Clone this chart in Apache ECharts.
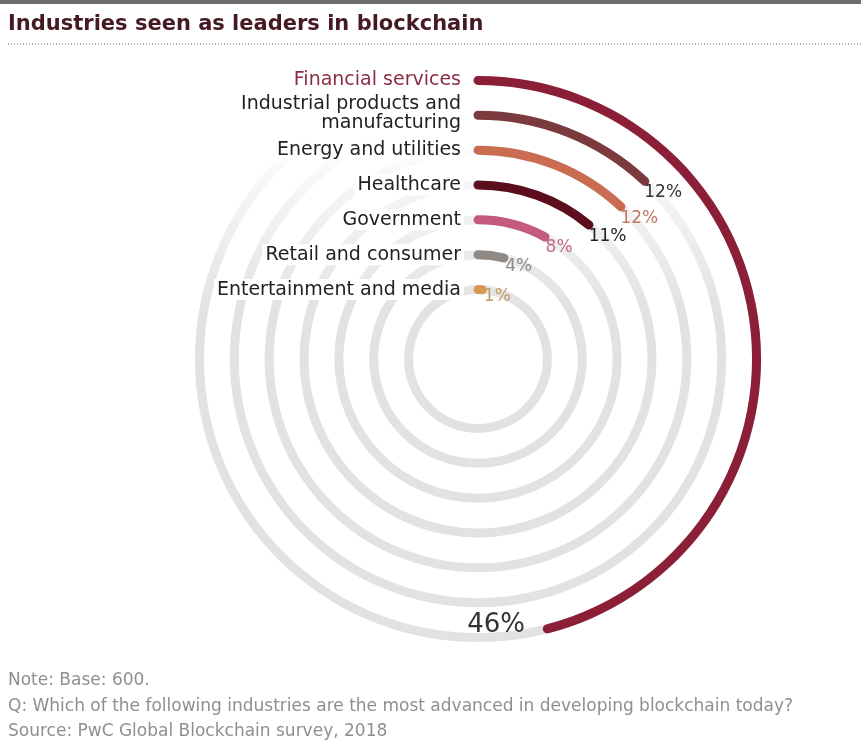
<!DOCTYPE html>
<html>
<head>
<meta charset="utf-8">
<script src="https://cdn.jsdelivr.net/npm/echarts@6/dist/echarts.min.js"></script>
<style>
  html, body { margin: 0; padding: 0; background: #fff; }
  #main { width: 861px; height: 745px; }
</style>
</head>
<body>
<div id="main"></div>
<script>
// rings from the inside out
var industries = [
  'Entertainment and media',
  'Retail and consumer',
  'Government',
  'Healthcare',
  'Energy and utilities',
  'Industrial products and manufacturing',
  'Financial services'
];
var shares = [1, 4, 8, 11, 12, 12, 46];
var angleRange = [0, 100];

var barColors = ['#d49a52', '#8e8984', '#c45a7c', '#5c0d1e', '#c96c52', '#7a3a3e', '#8c1f38'];
var pctColors = ['#c79a62', '#8e8984', '#c4688a', '#222222', '#c07868', '#333333', '#333333'];

var font = 'DejaVu Sans';

var myChart = echarts.init(document.getElementById('main'));

// the gray tracks fade out towards the top
var trackFill = {
  type: 'linear', x: 0, y: 130, x2: 0, y2: 310, global: true,
  colorStops: [
    { offset: 0, color: 'rgba(226,226,226,0)' },
    { offset: 1, color: 'rgba(226,226,226,1)' }
  ]
};

var barData = shares.map(function (v, i) {
  var item = {
    value: v,
    itemStyle: { color: barColors[i] },
    label: { color: pctColors[i] }
  };
  if (i === shares.length - 1) {
    item.label.fontSize = 26;
    item.label.align = 'right';
    item.label.verticalAlign = 'middle';
    item.label.offset = [-15, -5];
  }
  return item;
});

var option = {
  backgroundColor: '#fff',
  animation: false,
  title: [{
    text: 'Industries seen as leaders in blockchain',
    left: 8,
    top: 14,
    padding: 0,
    textStyle: { fontFamily: font, fontSize: 21, fontWeight: 'bold', color: '#451a22' }
  }, {
    text: 'Note: Base: 600.\nQ: Which of the following industries are the most advanced in developing blockchain today?\nSource: PwC Global Blockchain survey, 2018',
    left: 8,
    top: 668,
    padding: 0,
    textStyle: { fontFamily: font, fontSize: 17, fontWeight: 'normal', color: '#8f8f8f', lineHeight: 25.5 }
  }],
  graphic: [
    { type: 'rect', shape: { x: 0, y: 0, width: 861, height: 4 }, style: { fill: '#6e6e6e' } },
    { type: 'line', shape: { x1: 8, y1: 44, x2: 861, y2: 44 },
      style: { stroke: '#9a9a9a', lineWidth: 1.5, lineDash: [1, 2] } }
  ],
  polar: {
    center: [478, 359],
    radius: [52, 296]
  },
  angleAxis: {
    type: 'value',
    min: angleRange[0],
    max: angleRange[1],
    startAngle: 90,
    clockwise: true,
    axisLine: { show: false },
    axisTick: { show: false },
    axisLabel: { show: false },
    splitLine: { show: false }
  },
  radiusAxis: {
    type: 'category',
    data: industries,
    z: 10,
    axisLine: { show: false },
    axisTick: { show: false },
    splitLine: { show: false },
    axisLabel: {
      interval: 0,
      margin: 14,
      fontFamily: font,
      fontSize: 19,
      lineHeight: 19,
      backgroundColor: '#fff',
      padding: [1, 3],
      color: function (value) {
        return value === 'Financial services' ? '#8b2d42' : '#222';
      },
      formatter: function (value) {
        if (value === 'Industrial products and manufacturing') {
          return 'Industrial products and\nmanufacturing\n{s| }';
        }
        return value;
      },
      rich: { s: { fontSize: 4, lineHeight: 4 } }
    }
  },
  series: [{
    type: 'bar',
    coordinateSystem: 'polar',
    data: barData,
    barWidth: 9,
    roundCap: true,
    showBackground: true,
    backgroundStyle: { color: trackFill },
    label: {
      show: true,
      position: 'end',
      distance: 3,
      rotate: 0,
      offset: [-6, -2],
      fontFamily: font,
      fontSize: 17,
      align: 'left',
      verticalAlign: 'top',
      formatter: '{c}%'
    }
  }]
};

myChart.setOption(option);
</script>
</body>
</html>
